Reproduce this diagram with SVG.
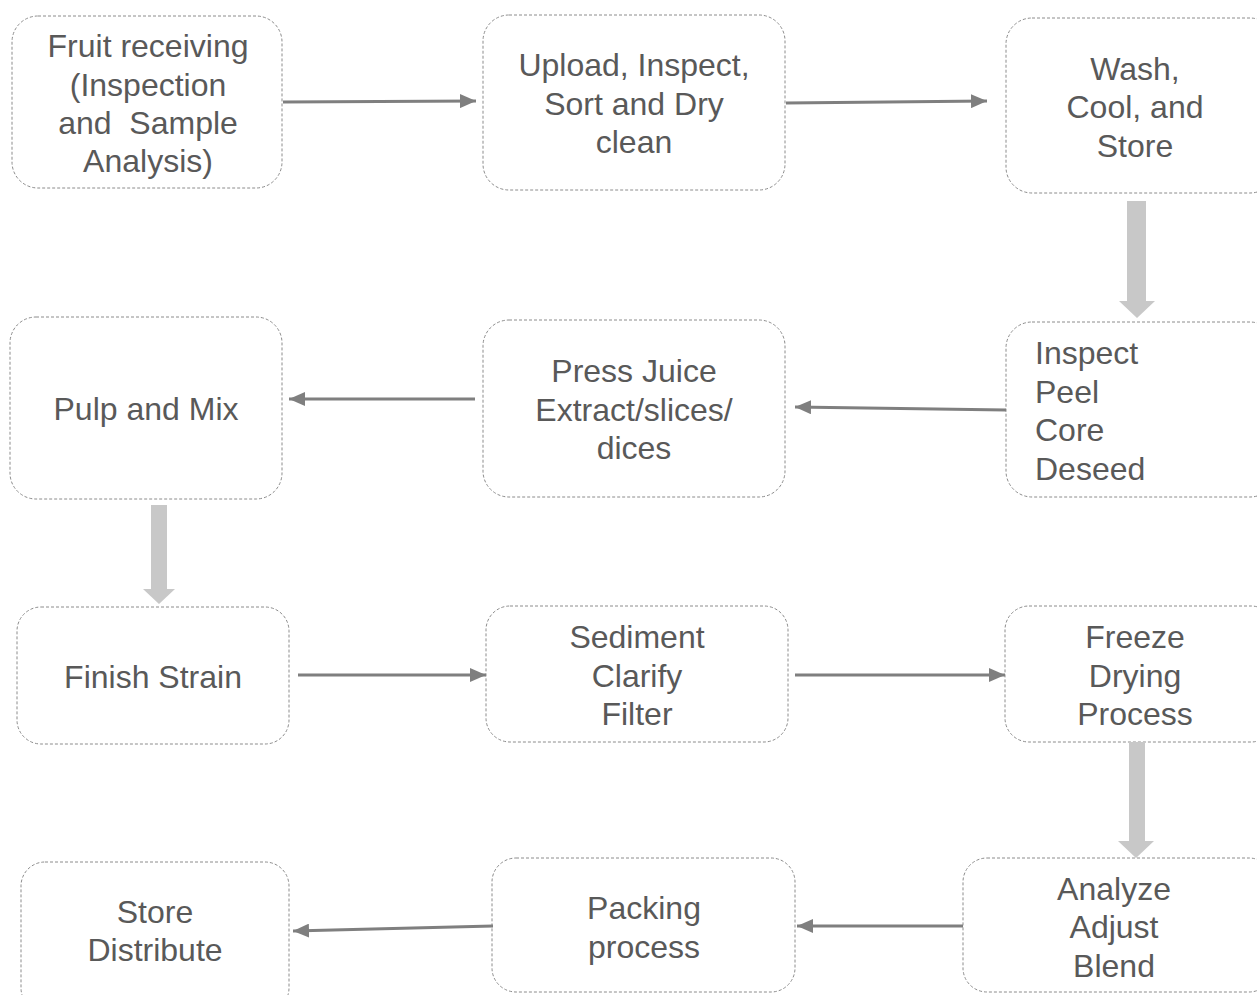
<svg xmlns="http://www.w3.org/2000/svg" width="1257" height="995" viewBox="0 0 1257 995">
<defs>
<style>
.box{fill:#ffffff;stroke:#8c8c8c;stroke-width:1;stroke-dasharray:3 2}
.t{font-family:"Liberation Sans",Arial,sans-serif;font-size:32px;fill:#595959;text-anchor:middle;white-space:pre}
.tl{font-family:"Liberation Sans",Arial,sans-serif;font-size:32px;fill:#595959;text-anchor:start}
.ln{stroke:#7f7f7f;stroke-width:3;fill:none;marker-end:url(#ah)}
.big{fill:#c8c8c8}
</style>
<marker id="ah" markerUnits="userSpaceOnUse" markerWidth="18" markerHeight="14" refX="16" refY="7" orient="auto">
<path d="M0,0 L16,7 L0,14 Z" fill="#7f7f7f"/>
</marker>
</defs>
<rect width="1257" height="995" fill="#ffffff"/>
<g id="n1"><rect class="box" x="12" y="16" width="270" height="172" rx="26"/>
<text class="t" x="148" y="57">Fruit receiving</text><text class="t" x="148" y="96">(Inspection</text><text class="t" x="148" y="134" xml:space="preserve">and  Sample</text><text class="t" x="148" y="172">Analysis)</text></g>
<g id="n2"><rect class="box" x="483" y="15" width="302" height="175" rx="26"/>
<text class="t" x="634" y="76">Upload, Inspect,</text><text class="t" x="634" y="115">Sort and Dry</text><text class="t" x="634" y="153">clean</text></g>
<g id="n3"><rect class="box" x="1006" y="18" width="270" height="175" rx="26"/>
<text class="t" x="1135" y="80">Wash,</text><text class="t" x="1135" y="118">Cool, and</text><text class="t" x="1135" y="157">Store</text></g>
<g id="n4"><rect class="box" x="10" y="317" width="272" height="182" rx="26"/>
<text class="t" x="146" y="420">Pulp and Mix</text></g>
<g id="n5"><rect class="box" x="483" y="320" width="302" height="177" rx="26"/>
<text class="t" x="634" y="382">Press Juice</text><text class="t" x="634" y="421">Extract/slices/</text><text class="t" x="634" y="459">dices</text></g>
<g id="n6"><rect class="box" x="1006" y="322" width="270" height="175" rx="26"/>
<text class="tl" x="1035" y="364">Inspect</text><text class="tl" x="1035" y="403">Peel</text><text class="tl" x="1035" y="441">Core</text><text class="tl" x="1035" y="480">Deseed</text></g>
<g id="n7"><rect class="box" x="17" y="607" width="272" height="137" rx="24"/>
<text class="t" x="153" y="688">Finish Strain</text></g>
<g id="n8"><rect class="box" x="486" y="606" width="302" height="136" rx="24"/>
<text class="t" x="637" y="648">Sediment</text><text class="t" x="637" y="687">Clarify</text><text class="t" x="637" y="725">Filter</text></g>
<g id="n9"><rect class="box" x="1005" y="606" width="270" height="136" rx="24"/>
<text class="t" x="1135" y="648">Freeze</text><text class="t" x="1135" y="687">Drying</text><text class="t" x="1135" y="725">Process</text></g>
<g id="n10"><rect class="box" x="21" y="862" width="268" height="150" rx="24"/>
<text class="t" x="155" y="923">Store</text><text class="t" x="155" y="961">Distribute</text></g>
<g id="n11"><rect class="box" x="492" y="858" width="303" height="134" rx="24"/>
<text class="t" x="644" y="919">Packing</text><text class="t" x="644" y="958">process</text></g>
<g id="n12"><rect class="box" x="963" y="858" width="310" height="134" rx="24"/>
<text class="t" x="1114" y="900">Analyze</text><text class="t" x="1114" y="938">Adjust</text><text class="t" x="1114" y="977">Blend</text></g>
<g id="connectors">
<line class="ln" x1="283" y1="102" x2="476" y2="101"/>
<line class="ln" x1="786" y1="103" x2="987" y2="101"/>
<line class="ln" x1="1006" y1="410" x2="795" y2="407"/>
<line class="ln" x1="475" y1="399" x2="289" y2="399"/>
<line class="ln" x1="298" y1="675" x2="486" y2="675"/>
<line class="ln" x1="795" y1="675" x2="1005" y2="675"/>
<line class="ln" x1="963" y1="926" x2="797" y2="926"/>
<line class="ln" x1="493" y1="926" x2="293" y2="931"/>
<path class="big" d="M1127,201 H1146 V301 H1155 L1137,318 L1119,301 H1127 Z"/>
<path class="big" d="M151,505 H167 V589 H175 L159,604 L143,589 H151 Z"/>
<path class="big" d="M1129,742 H1145 V841 H1154 L1136,858 L1118,841 H1129 Z"/>
</g>
</svg>
